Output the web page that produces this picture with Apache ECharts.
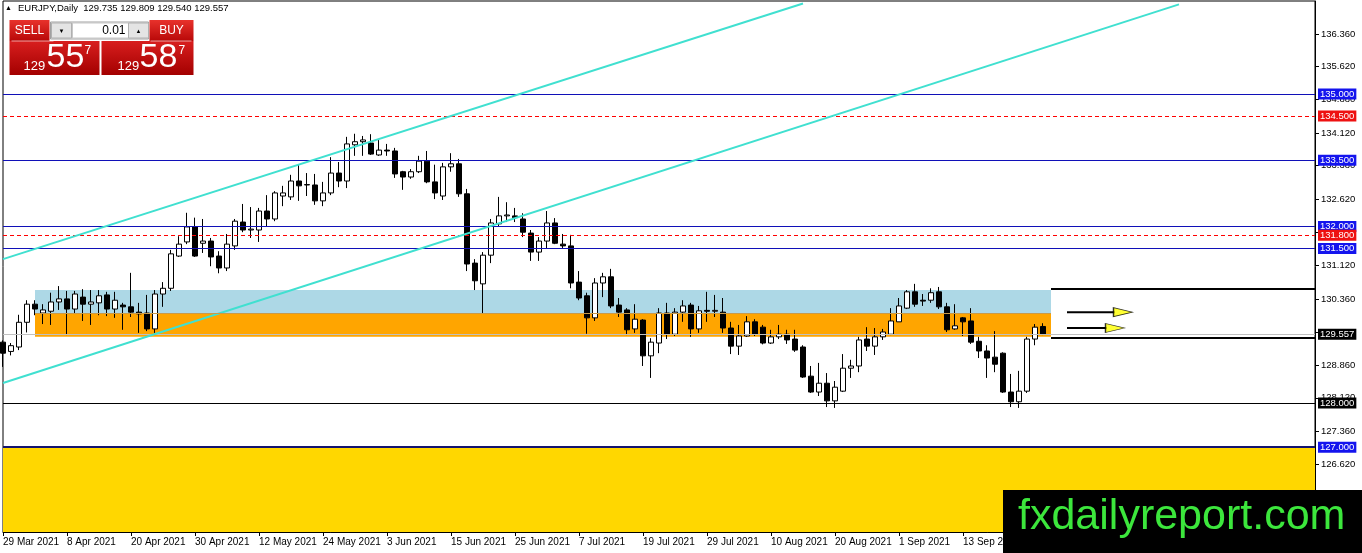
<!DOCTYPE html>
<html>
<head>
<meta charset="utf-8">
<script src="https://cdn.jsdelivr.net/npm/echarts/dist/echarts.min.js"></script>
<style>
  html, body { margin: 0; padding: 0; background: #fff; }
  #chart { width: 1362px; height: 553px; }
</style>
</head>
<body>
<div id="chart"></div>
<script>
// Velas diarias EURJPY (29 Mar 2021 -> 27 Sep 2021)
var opens = [
  129.38, 129.17, 129.27, 129.83, 130.24, 130.04, 130.08, 130.29, 130.36, 130.13,
  130.40, 130.24, 130.27, 130.45, 130.13, 130.22, 130.18, 130.06, 130.04, 129.68,
  130.47, 130.60, 131.33, 131.65, 131.99, 131.62, 131.67, 131.33, 131.06, 131.56,
  132.10, 131.92, 131.92, 132.35, 132.17, 132.69, 132.67, 133.03, 132.94, 132.94,
  132.58, 132.76, 133.21, 133.03, 133.85, 133.92, 133.89, 133.62, 133.73, 133.71,
  133.24, 133.12, 133.24, 133.48, 133.01, 132.69, 133.35, 133.42, 132.74, 131.17,
  130.70, 131.35, 132.06, 132.24, 132.24, 132.17, 131.85, 131.42, 131.67, 132.08,
  131.60, 131.56, 130.74, 130.43, 129.93, 130.72, 130.86, 130.22, 130.11, 129.68,
  129.88, 129.07, 129.36, 130.04, 129.56, 130.06, 130.22, 129.68, 130.10, 130.08,
  130.06, 129.70, 129.29, 129.52, 129.84, 129.72, 129.36, 129.50, 129.56, 129.45,
  129.27, 128.61, 128.25, 128.45, 128.05, 128.27, 128.79, 128.84, 129.45, 129.29,
  129.50, 129.56, 129.84, 130.15, 130.52, 130.33, 130.33, 130.52, 130.18, 129.68,
  129.93, 129.86, 129.40, 129.18, 129.04, 129.13, 128.25, 128.03, 128.27, 129.45,
  129.735
];
var highs = [
  129.42, 129.36, 130.00, 130.33, 130.33, 130.24, 130.50, 130.65, 130.54, 130.54,
  130.58, 130.56, 130.56, 130.52, 130.52, 130.27, 130.95, 130.27, 130.45, 130.56,
  130.74, 131.47, 131.78, 132.31, 132.20, 132.17, 131.74, 131.44, 131.83, 132.17,
  132.51, 132.44, 132.42, 132.71, 132.80, 132.92, 133.17, 133.40, 133.21, 133.19,
  133.01, 133.57, 133.46, 134.03, 134.10, 134.05, 134.09, 133.96, 133.87, 133.78,
  133.26, 133.30, 133.60, 133.71, 133.40, 133.44, 133.66, 133.53, 132.85, 131.26,
  131.42, 132.17, 132.67, 132.55, 132.42, 132.30, 131.92, 131.76, 132.35, 132.19,
  131.83, 131.81, 130.99, 130.50, 130.83, 130.95, 131.04, 130.38, 130.15, 130.24,
  129.90, 129.47, 130.15, 130.27, 130.15, 130.33, 130.27, 130.20, 130.52, 130.45,
  130.38, 129.84, 129.77, 129.97, 129.90, 129.77, 129.66, 129.77, 129.66, 129.66,
  129.31, 128.84, 128.91, 128.68, 128.50, 129.11, 128.98, 129.50, 129.72, 129.70,
  129.68, 130.15, 130.38, 130.56, 130.70, 130.47, 130.60, 130.63, 130.27, 130.24,
  129.95, 130.15, 129.50, 129.31, 129.63, 129.15, 128.66, 128.73, 129.50, 129.79,
  129.809
];
var lows = [
  128.82, 129.08, 129.20, 129.60, 129.99, 129.79, 129.77, 130.11, 129.54, 130.04,
  129.86, 129.77, 129.99, 129.97, 129.93, 129.66, 129.95, 129.59, 129.63, 129.59,
  130.18, 130.54, 131.31, 131.60, 131.31, 131.40, 131.10, 130.94, 130.99, 131.47,
  131.87, 131.74, 131.65, 132.01, 132.12, 132.46, 132.60, 132.58, 132.69, 132.49,
  132.46, 132.71, 132.89, 132.87, 133.60, 133.60, 133.62, 133.60, 133.60, 133.10,
  132.83, 133.08, 133.21, 132.98, 132.62, 132.60, 133.24, 132.67, 130.99, 130.56,
  130.02, 131.17, 132.01, 132.10, 132.10, 131.76, 131.22, 131.22, 131.51, 131.60,
  131.51, 130.60, 130.33, 129.57, 129.86, 130.40, 130.15, 129.95, 129.54, 129.59,
  128.84, 128.57, 129.13, 129.45, 129.52, 129.84, 129.50, 129.59, 129.84, 129.95,
  129.59, 129.11, 129.09, 129.50, 129.52, 129.33, 129.34, 129.45, 129.34, 129.16,
  128.57, 128.23, 128.16, 127.91, 127.89, 128.25, 128.57, 128.70, 129.18, 129.09,
  129.43, 129.54, 129.84, 130.13, 130.18, 130.20, 130.27, 130.13, 129.61, 129.66,
  129.52, 129.34, 129.02, 128.57, 128.70, 128.23, 127.91, 127.89, 128.23, 129.31,
  129.540
];
var closes = [
  129.13, 129.30, 129.83, 130.24, 130.13, 130.11, 130.29, 130.36, 130.13, 130.47,
  130.24, 130.29, 130.43, 130.13, 130.33, 130.18, 130.06, 130.02, 129.68, 130.47,
  130.60, 131.38, 131.60, 131.99, 131.33, 131.67, 131.31, 131.06, 131.60, 132.12,
  131.92, 131.94, 132.35, 132.17, 132.76, 132.76, 133.03, 132.92, 132.95, 132.58,
  132.76, 133.21, 133.03, 133.87, 133.92, 133.96, 133.64, 133.73, 133.71, 133.19,
  133.12, 133.24, 133.48, 133.01, 132.76, 133.35, 133.42, 132.74, 131.15, 130.77,
  131.35, 132.08, 132.24, 132.26, 132.20, 131.87, 131.42, 131.67, 132.08, 131.62,
  131.56, 130.72, 130.38, 129.93, 130.72, 130.86, 130.20, 130.06, 129.66, 129.90,
  129.07, 129.38, 130.04, 129.56, 130.06, 130.20, 129.68, 130.09, 130.08, 130.10,
  129.70, 129.29, 129.52, 129.84, 129.56, 129.36, 129.50, 129.56, 129.43, 129.20,
  128.59, 128.25, 128.45, 128.05, 128.36, 128.79, 128.84, 129.43, 129.29, 129.50,
  129.61, 129.86, 130.20, 130.52, 130.24, 130.31, 130.50, 130.18, 129.66, 129.75,
  129.84, 129.38, 129.18, 129.02, 128.88, 128.25, 128.03, 128.27, 129.45, 129.72,
  129.557
];

// Eje de precios
var yMin = 125.08;
var yMax = 137.107;
var yTicks = [136.36, 135.62, 134.88, 134.12, 133.38, 132.62, 131.88, 131.12,
  130.36, 129.60, 128.86, 128.12, 127.36, 126.62];

// Niveles horizontales
var blueLevels = [135.0, 133.5, 132.0, 131.5];
var redLevels = [134.5, 131.8];
var supportLevel = 128.0;
var lowZoneLevel = 127.0;
var bidPrice = 129.557;

// Zonas (indice inicio, indice fin, precio arriba, precio abajo)
var blueZone = [4, 131, 130.56, 130.04];
var orangeZone = [4, 131, 130.04, 129.50];

// Lineas de tendencia [i1, p1, i2, p2]
var trendUpper = [0, 131.26, 100, 137.05];
var trendLower = [0, 128.455, 147, 137.03];
var rightLines = [[131, 130.58, 164, 130.58], [131, 129.47, 164, 129.47]];

// Flechas amarillas
var arrowStart = [133, 133];
var arrowShaftEnd = [139, 138];
var arrowHead = [140, 139];
var arrowPrice = [130.06, 129.70];

var totalBars = 165;
var meses = ['Jan', 'Feb', 'Mar', 'Apr', 'May', 'Jun', 'Jul', 'Aug', 'Sep', 'Oct', 'Nov', 'Dec'];

// Fechas de dias habiles
var fechas = [];
var d = new Date(Date.UTC(2021, 2, 29));
while (fechas.length < totalBars) {
  var dia = d.getUTCDay();
  if (dia !== 0 && dia !== 6) {
    fechas.push(d.getUTCDate() + ' ' + meses[d.getUTCMonth()] + ' ' + d.getUTCFullYear());
  }
  d.setUTCDate(d.getUTCDate() + 1);
}

var velas = opens.map(function (o, i) {
  return [o, closes[i], lows[i], highs[i]];
});

var fuente = 'Liberation Sans, Arial, sans-serif';

// Etiqueta en el eje derecho con el precio exacto
function etiqueta(valor, fondo) {
  var texto = valor.toFixed(3);
  return {
    show: true,
    position: 'end',
    distance: 3,
    formatter: function () { return texto; },
    color: '#fff',
    backgroundColor: fondo,
    padding: [1, 2, 0, 2],
    fontSize: 9.5,
    fontFamily: fuente
  };
}

var nivelesData = [];
blueLevels.forEach(function (v) {
  nivelesData.push({ yAxis: v, lineStyle: { color: '#1010b8', width: 1, type: 'solid' }, label: etiqueta(v, '#1414ee') });
});
redLevels.forEach(function (v) {
  nivelesData.push({ yAxis: v, lineStyle: { color: '#ff0000', width: 1, type: [4, 3] }, label: etiqueta(v, '#ee1111') });
});
nivelesData.push({ yAxis: supportLevel, lineStyle: { color: '#000', width: 1, type: 'solid' }, label: etiqueta(supportLevel, '#000') });
nivelesData.push({ yAxis: lowZoneLevel, lineStyle: { color: '#14146e', width: 2, type: 'solid' }, label: etiqueta(lowZoneLevel, '#1414ee') });
nivelesData.push({ yAxis: bidPrice, lineStyle: { color: '#c0c0c0', width: 1, type: 'solid' }, label: etiqueta(bidPrice, '#000') });

function segmento(s, color, ancho) {
  return [
    { coord: [s[0], s[1]], lineStyle: { color: color, width: ancho, type: 'solid' } },
    { coord: [s[2], s[3]] }
  ];
}

var lineasData = [
  segmento(trendUpper, '#40e0d0', 2),
  segmento(trendLower, '#40e0d0', 2),
  segmento([orangeZone[0], orangeZone[2], orangeZone[1], orangeZone[2]], '#c99a4a', 1)
];
rightLines.forEach(function (s) { lineasData.push(segmento(s, '#000', 2)); });

var flechasSeries = [];
arrowPrice.forEach(function (p, k) {
  flechasSeries.push({
    type: 'line',
    z: 6,
    silent: true,
    symbol: 'none',
    lineStyle: { color: '#000', width: 2 },
    data: [[arrowStart[k], p], [arrowShaftEnd[k], p]]
  });
});
flechasSeries.push({
  type: 'scatter',
  z: 7,
  silent: true,
  symbol: 'triangle',
  symbolSize: [9, 19],
  symbolRotate: -90,
  itemStyle: { color: '#ffff00', borderColor: '#000', borderWidth: 1 },
  data: arrowPrice.map(function (p, k) { return [arrowHead[k], p]; })
});

var chart = echarts.init(document.getElementById('chart'));

var option = {
  animation: false,
  backgroundColor: '#fff',
  grid: {
    left: 3, right: 47, top: 1, bottom: 21,
    show: true, borderColor: '#000', borderWidth: 1, backgroundColor: 'transparent'
  },
  xAxis: {
    type: 'category',
    data: fechas,
    boundaryGap: false,
    axisLine: { lineStyle: { color: '#000', width: 1 } },
    axisTick: { interval: 7, length: 4, lineStyle: { color: '#000' } },
    axisLabel: {
      interval: 7, align: 'left', margin: 5, color: '#000',
      fontSize: 10, fontFamily: fuente, showMaxLabel: false
    },
    splitLine: { show: false }
  },
  yAxis: {
    type: 'value',
    position: 'right',
    min: yMin,
    max: yMax,
    axisLine: { show: true, lineStyle: { color: '#000', width: 1 } },
    axisTick: { show: true, length: 4, customValues: yTicks, lineStyle: { color: '#000' } },
    axisLabel: {
      customValues: yTicks, margin: 6, color: '#000', fontSize: 9.5, fontFamily: fuente,
      formatter: function (v) { return v.toFixed(3); }
    },
    splitLine: { show: false }
  },
  series: [
    {
      type: 'line',
      z: 1,
      silent: true,
      data: [],
      markArea: {
        silent: true,
        data: [
          [{ coord: [0, yMin], itemStyle: { color: '#ffd700', opacity: 1 } }, { coord: [totalBars - 1, lowZoneLevel] }],
          [{ coord: [blueZone[0], blueZone[2]], itemStyle: { color: '#add8e6', opacity: 1 } }, { coord: [blueZone[1], blueZone[3]] }],
          [{ coord: [orangeZone[0], orangeZone[2]], itemStyle: { color: '#ffa500', opacity: 1 } }, { coord: [orangeZone[1], orangeZone[3]] }]
        ]
      }
    },
    {
      type: 'candlestick',
      z: 3,
      silent: true,
      clip: false,
      barWidth: 5,
      data: velas,
      itemStyle: {
        color: '#fff', color0: '#000',
        borderColor: '#000', borderColor0: '#000', borderWidth: 1
      }
    },
    {
      type: 'line',
      z: 4,
      silent: true,
      data: [],
      markLine: { silent: true, symbol: 'none', animation: false, data: nivelesData }
    },
    {
      type: 'line',
      z: 5,
      silent: true,
      data: [],
      markLine: { silent: true, symbol: 'none', animation: false, label: { show: false }, data: lineasData }
    }
  ].concat(flechasSeries),
  graphic: [
    // encabezado
    { type: 'text', left: 5, top: 5, z: 100, style: { text: '▲', fontSize: 7, fill: '#000', fontFamily: fuente } },
    { type: 'text', left: 18, top: 3, z: 100, style: { text: 'EURJPY,Daily  129.735 129.809 129.540 129.557', fontSize: 9.5, fill: '#000', fontFamily: fuente } },
    // panel de operaciones
    {
      type: 'group', left: 9, top: 20, z: 100,
      children: [
        { type: 'rect', shape: { x: 0, y: 0, width: 40, height: 21 }, style: { fill: new echarts.graphic.LinearGradient(0, 0, 0, 1, [{ offset: 0, color: '#e8322c' }, { offset: 1, color: '#b80808' }]) } },
        { type: 'rect', shape: { x: 140, y: 0, width: 44, height: 21 }, style: { fill: new echarts.graphic.LinearGradient(0, 0, 0, 1, [{ offset: 0, color: '#e8322c' }, { offset: 1, color: '#b80808' }]) } },
        { type: 'rect', shape: { x: 41, y: 2, width: 98, height: 17 }, style: { fill: '#f0f0f0', stroke: '#a0a0a0', lineWidth: 1 } },
        { type: 'rect', shape: { x: 42, y: 3, width: 20, height: 15 }, style: { fill: '#e4e4e4', stroke: '#b0b0b0', lineWidth: 1 } },
        { type: 'rect', shape: { x: 63, y: 3, width: 56, height: 15 }, style: { fill: '#fff', stroke: '#c8c8c8', lineWidth: 1 } },
        { type: 'rect', shape: { x: 119, y: 3, width: 20, height: 15 }, style: { fill: '#e4e4e4', stroke: '#b0b0b0', lineWidth: 1 } },
        { type: 'text', x: 52, y: 11, style: { text: '▼', fontSize: 6, fill: '#000', align: 'center', verticalAlign: 'middle' } },
        { type: 'text', x: 129, y: 11, style: { text: '▲', fontSize: 6, fill: '#000', align: 'center', verticalAlign: 'middle' } },
        { type: 'text', x: 116, y: 11, style: { text: '0.01', fontSize: 12, fill: '#000', align: 'right', verticalAlign: 'middle', fontFamily: fuente } },
        { type: 'text', x: 20, y: 11, style: { text: 'SELL', fontSize: 12, fill: '#fff', align: 'center', verticalAlign: 'middle', fontFamily: fuente } },
        { type: 'text', x: 162, y: 11, style: { text: 'BUY', fontSize: 12, fill: '#fff', align: 'center', verticalAlign: 'middle', fontFamily: fuente } },
        { type: 'rect', shape: { x: 0, y: 21, width: 90, height: 34 }, style: { fill: new echarts.graphic.LinearGradient(0, 0, 0, 1, [{ offset: 0, color: '#d81e1e' }, { offset: 1, color: '#a30000' }]) } },
        { type: 'rect', shape: { x: 92, y: 21, width: 92, height: 34 }, style: { fill: new echarts.graphic.LinearGradient(0, 0, 0, 1, [{ offset: 0, color: '#d81e1e' }, { offset: 1, color: '#a30000' }]) } },
        { type: 'line', shape: { x1: 2, y1: 21, x2: 44, y2: 21 }, style: { stroke: 'rgba(255,255,255,0.6)', lineWidth: 1 } },
        { type: 'line', shape: { x1: 141, y1: 21, x2: 182, y2: 21 }, style: { stroke: 'rgba(255,255,255,0.6)', lineWidth: 1 } },
        { type: 'text', x: 14, y: 53, style: { text: '129', fontSize: 13, fill: '#fff', verticalAlign: 'bottom', fontFamily: fuente } },
        { type: 'text', x: 37, y: 55, style: { text: '55', fontSize: 34, fill: '#fff', verticalAlign: 'bottom', fontFamily: fuente } },
        { type: 'text', x: 75, y: 25, style: { text: '7', fontSize: 12, fill: '#fff', fontFamily: fuente } },
        { type: 'text', x: 108, y: 53, style: { text: '129', fontSize: 13, fill: '#fff', verticalAlign: 'bottom', fontFamily: fuente } },
        { type: 'text', x: 130, y: 55, style: { text: '58', fontSize: 34, fill: '#fff', verticalAlign: 'bottom', fontFamily: fuente } },
        { type: 'text', x: 169, y: 25, style: { text: '7', fontSize: 12, fill: '#fff', fontFamily: fuente } }
      ]
    },
    // marca de agua
    { type: 'rect', left: 1003, top: 490, z: 100, shape: { width: 359, height: 63 }, style: { fill: '#000' } },
    { type: 'text', left: 1018, top: 496, z: 101, style: { text: 'fxdailyreport.com', fontSize: 43, fill: '#3ce63c', fontFamily: fuente } }
  ]
};

chart.setOption(option);
</script>
</body>
</html>
